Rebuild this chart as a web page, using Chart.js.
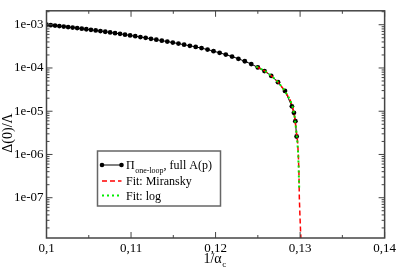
<!DOCTYPE html>
<html>
<head>
<meta charset="utf-8">
<script src="https://cdn.jsdelivr.net/npm/chart.js@4"></script>
<style>
  html, body { margin: 0; padding: 0; background: #fff; }
  #wrap { width: 399px; height: 270px; }
</style>
</head>
<body>
<div id="wrap"><canvas id="gap"></canvas></div>
<script>
// 1/alpha_c values and the gap Delta(0)/Lambda
var invAlpha = [0.10000, 0.10050, 0.10101, 0.10152, 0.10204, 0.10256, 0.10309, 0.10363,
  0.10417, 0.10471, 0.10526, 0.10582, 0.10638, 0.10695, 0.10753, 0.10811, 0.10870,
  0.10929, 0.10989, 0.11050, 0.11111, 0.11173, 0.11236, 0.11299, 0.11364, 0.11429,
  0.11494, 0.11561, 0.11628, 0.11696, 0.11765, 0.11834, 0.11905, 0.11976, 0.12048,
  0.12121, 0.12195, 0.12270, 0.12346, 0.12422, 0.12500, 0.12579, 0.12658, 0.12739,
  0.12821, 0.12903, 0.12927, 0.12944, 0.12959];
var gap = [1.000e-3, 9.77e-4, 9.54e-4, 9.31e-4, 9.07e-4, 8.83e-4, 8.59e-4, 8.35e-4,
  8.11e-4, 7.86e-4, 7.61e-4, 7.37e-4, 7.12e-4, 6.88e-4, 6.63e-4, 6.39e-4, 6.15e-4,
  5.90e-4, 5.66e-4, 5.43e-4, 5.19e-4, 4.97e-4, 4.73e-4, 4.51e-4, 4.29e-4, 4.08e-4,
  3.86e-4, 3.66e-4, 3.45e-4, 3.26e-4, 3.07e-4, 2.88e-4, 2.66e-4, 2.45e-4, 2.24e-4,
  2.04e-4, 1.84e-4, 1.63e-4, 1.43e-4, 1.23e-4, 1.03e-4, 8.5e-5, 6.6e-5, 4.7e-5,
  2.95e-5, 1.3e-5, 9.2e-6, 5.9e-6, 2.6e-6];

// fit curves
var miranskyX = [0.1248, 0.1258, 0.1266, 0.1274, 0.1282, 0.1288, 0.1291, 0.12935,
  0.12955, 0.1297, 0.12979, 0.12986, 0.12991, 0.12998, 0.13006, 0.13014];
var miranskyY = [1.08e-4, 8.6e-5, 6.6e-5, 4.7e-5, 2.95e-5, 1.85e-5, 1.3e-5, 7.5e-6,
  3.5e-6, 2.0e-6, 1.0e-6, 4.0e-7, 1.0e-7, 4.0e-8, 1.6e-8, 8e-9];
var logFitX = [0.1248, 0.1258, 0.1266, 0.1274, 0.1282, 0.1288, 0.1291, 0.12935,
  0.12955, 0.12967, 0.12978, 0.12984, 0.1299];
var logFitY = [1.08e-4, 8.6e-5, 6.6e-5, 4.7e-5, 2.95e-5, 1.85e-5, 1.3e-5, 7.5e-6,
  3.5e-6, 2.0e-6, 1.0e-6, 4.0e-7, 1.5e-7];

var xTicks = [0.10, 0.11, 0.12, 0.13, 0.14];
var xMinor = [0.105, 0.115, 0.125, 0.135];
var yTicks = [1e-7, 1e-6, 1e-5, 1e-4, 1e-3];

var serif = "'Liberation Serif', 'DejaVu Serif', serif";
var frameColor = '#444';

function pairs(xs, ys) {
  var out = [];
  for (var i = 0; i < xs.length; i++) out.push({x: xs[i], y: ys[i]});
  return out;
}

function expLabel(v) {
  var e = Math.round(Math.log10(v));
  var s = Math.abs(e) < 10 ? '0' + Math.abs(e) : '' + Math.abs(e);
  return '1e' + (e < 0 ? '-' : '+') + s;
}

// frame, inward ticks, axis titles and legend
var decor = {
  id: 'decor',
  afterDraw: function (chart) {
    var ctx = chart.ctx;
    var a = chart.chartArea;
    var sx = chart.scales.x, sy = chart.scales.y;
    ctx.save();
    ctx.strokeStyle = frameColor;
    ctx.lineWidth = 1.5;
    ctx.strokeRect(a.left, a.top, a.right - a.left, a.bottom - a.top);

    ctx.lineWidth = 1;
    ctx.beginPath();
    function xt(v, len) {
      var p = sx.getPixelForValue(v);
      ctx.moveTo(p, a.bottom); ctx.lineTo(p, a.bottom - len);
      ctx.moveTo(p, a.top); ctx.lineTo(p, a.top + len);
    }
    function yt(v, len) {
      var p = sy.getPixelForValue(v);
      if (p < a.top - 0.5 || p > a.bottom + 0.5) return;
      ctx.moveTo(a.left, p); ctx.lineTo(a.left + len, p);
      ctx.moveTo(a.right, p); ctx.lineTo(a.right - len, p);
    }
    xTicks.forEach(function (v) { xt(v, 6); });
    xMinor.forEach(function (v) { xt(v, 3); });
    for (var e = -8; e <= -3; e++) {
      for (var m = 1; m <= 9; m++) {
        yt(m * Math.pow(10, e), m === 1 ? 6 : 3);
      }
    }
    ctx.stroke();

    // axis titles
    ctx.fillStyle = '#000';
    ctx.textBaseline = 'alphabetic';
    ctx.font = '14px ' + serif;
    var t = '1/\u03b1';
    var w = ctx.measureText(t).width;
    ctx.font = '9px ' + serif;
    var wc = ctx.measureText('c').width;
    var cx = (a.left + a.right) / 2 - 1;
    var x0 = cx - (w + wc) / 2;
    ctx.font = '14px ' + serif;
    ctx.textAlign = 'left';
    ctx.fillText(t, x0, 263);
    ctx.font = '9px ' + serif;
    ctx.fillText('c', x0 + w + 0.5, 267);

    ctx.save();
    ctx.translate(12, 133);
    ctx.rotate(-Math.PI / 2);
    ctx.font = '14px ' + serif;
    ctx.textAlign = 'center';
    ctx.fillText('\u0394(0)/\u039b', 0, 0);
    ctx.restore();

    // legend
    var bx = 97.5, by = 151, bw = 123, bh = 55;
    ctx.fillStyle = '#fff';
    ctx.fillRect(bx, by, bw, bh);
    ctx.strokeStyle = '#666';
    ctx.lineWidth = 1.5;
    ctx.strokeRect(bx, by, bw, bh);

    var l0 = 102, l1 = 121.5, tx = 126;
    var rows = [165, 181, 195.5];
    ctx.strokeStyle = '#000';
    ctx.lineWidth = 1;
    ctx.beginPath(); ctx.moveTo(l0, rows[0]); ctx.lineTo(l1, rows[0]); ctx.stroke();
    ctx.fillStyle = '#000';
    [l0, l1].forEach(function (px) {
      ctx.beginPath(); ctx.arc(px, rows[0], 2.3, 0, Math.PI * 2); ctx.fill();
    });
    ctx.strokeStyle = '#ff0000';
    ctx.lineWidth = 1.5;
    ctx.setLineDash([5, 3]);
    ctx.beginPath(); ctx.moveTo(l0, rows[1]); ctx.lineTo(l1, rows[1]); ctx.stroke();
    ctx.strokeStyle = '#00ee00';
    ctx.lineWidth = 2;
    ctx.setLineDash([2, 3]);
    ctx.beginPath(); ctx.moveTo(l0, rows[2]); ctx.lineTo(l1, rows[2]); ctx.stroke();
    ctx.setLineDash([]);

    ctx.fillStyle = '#000';
    ctx.textAlign = 'left';
    ctx.font = '12px ' + serif;
    ctx.fillText('\u03a0', tx, rows[0] + 4);
    var px = tx + ctx.measureText('\u03a0').width + 0.5;
    ctx.font = '8px ' + serif;
    ctx.fillText('one-loop', px, rows[0] + 7.5);
    px += ctx.measureText('one-loop').width;
    ctx.font = '12px ' + serif;
    ctx.fillText(', full A(p)', px, rows[0] + 4);
    ctx.fillText('Fit: Miransky', tx, rows[1] + 4);
    ctx.fillText('Fit: log', tx, rows[2] + 4);
    ctx.restore();
  }
};

var ctx = document.getElementById('gap');
new Chart(ctx, {
  type: 'scatter',
  data: {
    datasets: [{
      label: 'Pi one-loop, full A(p)',
      data: pairs(invAlpha, gap),
      showLine: true,
      borderColor: '#000',
      backgroundColor: '#000',
      borderWidth: 1,
      pointRadius: 2.4,
      pointBorderWidth: 0,
      order: 3
    }, {
      label: 'Fit: Miransky',
      data: pairs(miranskyX, miranskyY),
      showLine: true,
      borderColor: '#ff0000',
      borderWidth: 1.5,
      borderDash: [5, 3],
      pointRadius: 0,
      order: 2
    }, {
      label: 'Fit: log',
      data: pairs(logFitX, logFitY),
      showLine: true,
      borderColor: '#00ee00',
      borderWidth: 2,
      borderDash: [2, 3],
      pointRadius: 0,
      order: 1
    }]
  },
  options: {
    responsive: true,
    maintainAspectRatio: false,
    animation: false,
    layout: { padding: { top: 1.5, right: 12.3, left: 0, bottom: 0 } },
    plugins: { legend: { display: false }, tooltip: { enabled: false } },
    scales: {
      x: {
        type: 'linear',
        min: 0.1,
        max: 0.14,
        grid: { display: false, drawTicks: false },
        border: { display: false },
        afterBuildTicks: function (s) { s.ticks = xTicks.map(function (v) { return {value: v}; }); },
        afterFit: function (s) { s.height = 32; },
        ticks: {
          padding: 3,
          color: '#000',
          font: { family: serif, size: 13 },
          maxRotation: 0,
          callback: function (v) { return String(+v.toFixed(2)).replace('.', ','); }
        }
      },
      y: {
        type: 'logarithmic',
        min: 1.17e-8,
        max: 2.1e-3,
        grid: { display: false, drawTicks: false },
        border: { display: false },
        afterBuildTicks: function (s) { s.ticks = yTicks.map(function (v) { return {value: v}; }); },
        afterFit: function (s) { s.width = 46.5; },
        ticks: {
          padding: 3,
          color: '#000',
          font: { family: serif, size: 13 },
          callback: function (v) { return expLabel(v); }
        }
      }
    }
  },
  plugins: [decor]
});
</script>
</body>
</html>
